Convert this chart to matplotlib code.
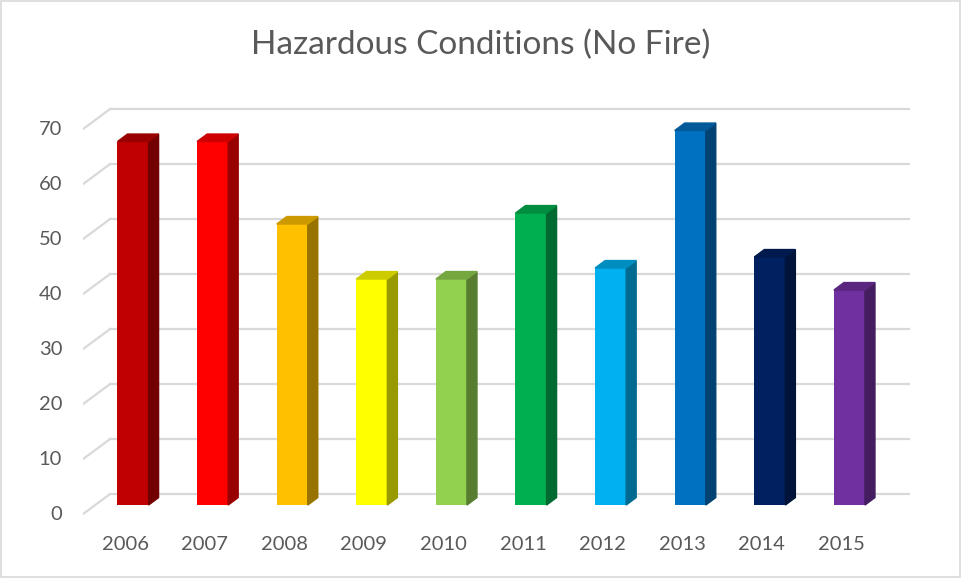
import matplotlib.pyplot as plt
import matplotlib.colors as mcolors
from matplotlib.patches import Polygon, Rectangle

years = ["2006", "2007", "2008", "2009", "2010", "2011", "2012", "2013", "2014", "2015"]
values = [67, 67, 52, 42, 42, 54, 44, 69, 46, 40]
colors = ["#c00000", "#ff0000", "#ffc000", "#ffff00", "#92d050",
          "#00b050", "#00b0f0", "#0070c0", "#002060", "#7030a0"]
yticks = [0, 10, 20, 30, 40, 50, 60, 70]

plt.rcParams['font.family'] = ['Lato', 'DejaVu Sans']
txt = "#595959"

fig = plt.figure(figsize=(9.61, 5.78), dpi=100)
fig.patches.append(Rectangle((0.001, 0.001), 0.998, 0.997, transform=fig.transFigure,
                             fill=False, edgecolor="#d9d9d9", lw=1.2))
fig.text(0.5, 0.922, "Hazardous Conditions (No Fire)", ha="center", va="center",
         fontsize=24, color=txt)

ax = fig.add_axes([0.0864, 0.102, 0.8606, 0.7266])
ax.set_xlim(-0.528, 9.862)
ax.set_ylim(-0.91, 75.45)
ax.axis("off")

# pseudo-3D depth offsets
wall_dx, wall_dy = 0.34, 3.64     # floor front edge -> back wall
depth_dx, depth_dy = 0.126, 1.36  # bar depth
shift, width, lift = 0.1, 0.39, 0.73
base = 0.9 + lift

for v in yticks:
    ax.plot([-0.528, -0.528 + wall_dx], [v, v + wall_dy], color="#d9d9d9", lw=1.6, zorder=1)
    ax.plot([-0.528 + wall_dx, 9.862], [v + wall_dy, v + wall_dy], color="#d9d9d9", lw=1.6, zorder=1)
    ax.text(-0.79, v, str(v), ha="right", va="center", fontsize=14.5, color=txt)

for i, (yr, v, c) in enumerate(zip(years, values, colors)):
    x0 = i + shift - width / 2
    x1 = x0 + width
    top_y = v + lift
    rgb = mcolors.to_rgb(c)
    side = tuple(k * 0.6 for k in rgb)
    top = tuple(k * 0.8 for k in rgb)
    ax.bar(i + shift, top_y - base, width=width, bottom=base, color=c, zorder=3)
    ax.add_patch(Polygon([(x1, base), (x1 + depth_dx, base + depth_dy),
                          (x1 + depth_dx, top_y + depth_dy), (x1, top_y)],
                         closed=True, color=side, zorder=3))
    ax.add_patch(Polygon([(x0, top_y), (x0 + depth_dx, top_y + depth_dy),
                          (x1 + depth_dx, top_y + depth_dy), (x1, top_y)],
                         closed=True, color=top, zorder=3))
    ax.text(i, -5.5, yr, ha="center", va="center", fontsize=14.5, color=txt)

plt.savefig("out.png", dpi=100)
